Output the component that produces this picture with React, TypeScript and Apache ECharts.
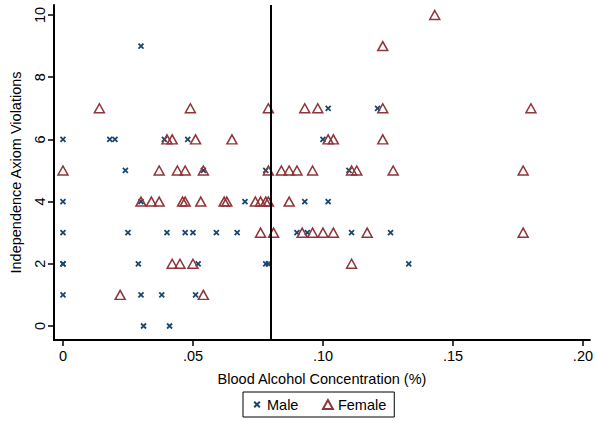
import React, { useEffect, useRef } from "react";
import * as echarts from "echarts";

// Male: [BAC, violations]
const maleData: [number, number][] = [
  [0.030, 9],
  [0.102, 7], [0.121, 7],
  [0, 6], [0.018, 6], [0.020, 6], [0.039, 6], [0.048, 6], [0.100, 6],
  [0.024, 5], [0.054, 5], [0.078, 5], [0.110, 5],
  [0, 4], [0.030, 4], [0.070, 4], [0.093, 4], [0.102, 4],
  [0, 3], [0.025, 3], [0.040, 3], [0.047, 3], [0.050, 3], [0.059, 3], [0.067, 3], [0.090, 3], [0.094, 3], [0.111, 3], [0.126, 3],
  [0, 2], [0, 2], [0.029, 2], [0.052, 2], [0.078, 2], [0.079, 2], [0.133, 2],
  [0, 1], [0.030, 1], [0.038, 1], [0.051, 1],
  [0.031, 0], [0.041, 0],
];

// Female: [BAC, violations]
const femaleData: [number, number][] = [
  [0.143, 10],
  [0.123, 9],
  [0.014, 7], [0.049, 7], [0.079, 7], [0.093, 7], [0.098, 7], [0.123, 7], [0.180, 7],
  [0.040, 6], [0.042, 6], [0.051, 6], [0.065, 6], [0.102, 6], [0.104, 6], [0.123, 6],
  [0, 5], [0.037, 5], [0.044, 5], [0.047, 5], [0.054, 5], [0.079, 5], [0.084, 5], [0.087, 5], [0.090, 5], [0.096, 5], [0.111, 5], [0.113, 5], [0.127, 5], [0.177, 5],
  [0.030, 4], [0.034, 4], [0.037, 4], [0.046, 4], [0.047, 4], [0.053, 4], [0.062, 4], [0.063, 4], [0.074, 4], [0.076, 4], [0.078, 4], [0.079, 4], [0.087, 4],
  [0.076, 3], [0.081, 3], [0.092, 3], [0.096, 3], [0.100, 3], [0.104, 3], [0.117, 3], [0.177, 3],
  [0.042, 2], [0.045, 2], [0.050, 2], [0.111, 2],
  [0.022, 1], [0.054, 1],
];

const xTicks = [0, 0.05, 0.1, 0.15, 0.2];
const yTicks = [0, 2, 4, 6, 8, 10];
const thresholdBAC = 0.08;

const NAVY = "#1a476f";
const MAROON = "#90353b";
const FONT = "Liberation Sans, Arial, sans-serif";
const FS = 14.5;

const X_PATH = "path://M0,0L10,10M10,0L0,10";
const X_PATH_LEGEND = "path://M-3,-3M0,0L10,10M10,0L0,10M13,13";

export default function App() {
  const ref = useRef<HTMLDivElement>(null);
  useEffect(() => {
    if (!ref.current) return;
    const chart = echarts.init(ref.current, null, { renderer: "svg" });
    chart.setOption({
      animation: false,
      backgroundColor: "#ffffff",
      textStyle: { fontFamily: FONT },
      grid: { left: 52, right: 6, top: 5, bottom: 81, containLabel: false },
      xAxis: {
        type: "value",
        min: -0.00345,
        max: 0.2027,
        name: "Blood Alcohol Concentration (%)",
        nameLocation: "middle",
        nameGap: 31,
        nameTextStyle: { fontSize: FS, color: "#000", fontFamily: FONT },
        axisLine: { onZero: false, lineStyle: { color: "#000", width: 2 } },
        axisTick: { show: true, length: 6, lineStyle: { color: "#000", width: 1.5 }, customValues: xTicks },
        axisLabel: {
          customValues: xTicks,
          fontSize: FS,
          color: "#000",
          margin: 8,
          fontFamily: FONT,
          formatter: (v: number) => (v === 0 ? "0" : v.toFixed(2).replace(/^0/, "")),
        },
        splitLine: { show: false },
      },
      yAxis: {
        type: "value",
        min: -0.45,
        max: 10.32,
        name: "Independence Axiom Violations",
        nameLocation: "middle",
        nameGap: 31,
        nameTextStyle: { fontSize: FS, color: "#000", fontFamily: FONT },
        axisLine: { onZero: false, lineStyle: { color: "#000", width: 2 } },
        axisTick: { show: true, length: 6, lineStyle: { color: "#000", width: 1.5 }, customValues: yTicks },
        axisLabel: {
          customValues: yTicks,
          fontSize: FS,
          color: "#000",
          rotate: 90,
          margin: 7,
          fontFamily: FONT,
        },
        splitLine: { show: false },
      },
      legend: {
        left: 243,
        top: 392,
        orient: "horizontal",
        borderColor: "#000",
        borderWidth: 1,
        padding: [5, 8, 5, 7],
        itemGap: 22,
        itemWidth: 10,
        itemHeight: 9,
        itemStyle: {},
        textStyle: { fontSize: FS, color: "#000", fontFamily: FONT },
        data: [
          { name: "Male", icon: X_PATH_LEGEND },
          { name: "Female", icon: "triangle" },
        ],
      },
      series: [
        {
          name: "Male",
          type: "scatter",
          symbol: X_PATH,
          symbolSize: 5,
          itemStyle: { color: "none", borderColor: NAVY, borderWidth: 1.8, opacity: 1 },
          data: maleData,
          markLine: {
            silent: true,
            symbol: "none",
            label: { show: false },
            lineStyle: { color: "#000", width: 2, type: "solid" },
            data: [{ xAxis: thresholdBAC }],
          },
        },
        {
          name: "Female",
          type: "scatter",
          symbol: "triangle",
          symbolSize: [10, 9],
          itemStyle: { color: "none", borderColor: MAROON, borderWidth: 1.5, opacity: 1 },
          data: femaleData,
        },
      ],
    });
    return () => chart.dispose();
  }, []);
  return (
    <div
      ref={ref}
      style={{ position: "absolute", left: 0, top: 0, width: 596, height: 421, background: "#fff" }}
    />
  );
}
